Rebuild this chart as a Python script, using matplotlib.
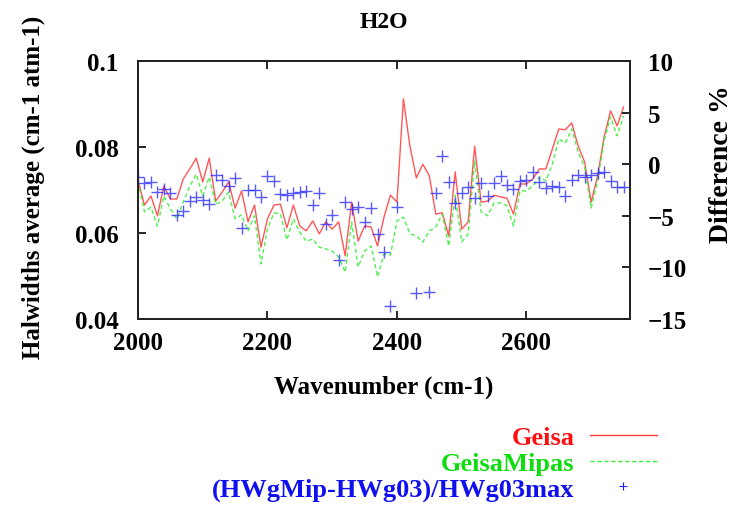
import numpy as np
import matplotlib
matplotlib.use("Agg")
import matplotlib.pyplot as plt
from matplotlib.lines import Line2D

# Wavenumber grid (cm-1)
wavenumber = np.arange(2000, 2760, 10)

# Average half-widths (cm-1 atm-1)
geisa = [0.0723, 0.0665, 0.0686, 0.0640, 0.0709, 0.0679, 0.0679, 0.0726, 0.0749, 0.0774,
         0.0719, 0.0774, 0.0674, 0.0695, 0.0719, 0.0658, 0.0698, 0.0626, 0.0665, 0.0567,
         0.0633, 0.0665, 0.0667, 0.0612, 0.0665, 0.0616, 0.0605, 0.0628, 0.0598, 0.0626,
         0.0609, 0.0626, 0.0547, 0.0672, 0.0581, 0.0616, 0.0614, 0.0570, 0.0637, 0.0688,
         0.0672, 0.0912, 0.0802, 0.0728, 0.0760, 0.0733, 0.0644, 0.0647, 0.0593, 0.0742,
         0.0609, 0.0626, 0.0802, 0.0672, 0.0674, 0.0688, 0.0684, 0.0681, 0.0644, 0.0714,
         0.0714, 0.0726, 0.0749, 0.0749, 0.0795, 0.0842, 0.0840, 0.0856, 0.0802, 0.0765,
         0.0672, 0.0733, 0.0823, 0.0884, 0.0849, 0.0893]

geisa_mipas = [0.0719, 0.0649, 0.0660, 0.0616, 0.0686, 0.0656, 0.0633, 0.0672, 0.0709, 0.0737,
               0.0686, 0.0730, 0.0667, 0.0674, 0.0695, 0.0633, 0.0642, 0.0605, 0.0640, 0.0528,
               0.0609, 0.0647, 0.0644, 0.0584, 0.0633, 0.0602, 0.0581, 0.0586, 0.0567, 0.0563,
               0.0558, 0.0544, 0.0509, 0.0626, 0.0521, 0.0558, 0.0570, 0.0498, 0.0551, 0.0549,
               0.0628, 0.0637, 0.0598, 0.0593, 0.0579, 0.0605, 0.0614, 0.0644, 0.0570, 0.0688,
               0.0579, 0.0598, 0.0767, 0.0649, 0.0640, 0.0670, 0.0670, 0.0663, 0.0616, 0.0698,
               0.0698, 0.0709, 0.0730, 0.0721, 0.0760, 0.0819, 0.0809, 0.0842, 0.0788, 0.0753,
               0.0658, 0.0721, 0.0816, 0.0870, 0.0826, 0.0872]

# Relative difference (%)
difference = [-1.2, -1.8, -1.7, -2.7, -2.4, -2.8, -4.9, -4.5, -3.6, -3.2,
              -3.5, -3.9, -1.0, -1.5, -2.1, -1.3, -6.2, -2.5, -2.5, -3.2,
              -1.1, -1.6, -2.9, -3.0, -2.8, -2.7, -2.6, -4.0, -2.8, -5.8,
              -4.9, -9.3, -3.7, -4.3, -4.1, -5.6, -4.2, -6.8, -8.5, -13.7,
              -4.1, np.nan, np.nan, -12.5, np.nan, -12.4, -2.8, 0.8, -1.7, -3.8,
              -2.8, -2.2, -3.3, -1.8, -3.1, -1.8, -1.1, -2.0, -2.4, -1.6,
              -1.5, -0.8, -1.7, -2.3, -2.1, -2.2, -3.1, -1.5, -1.0, -1.2,
              -1.0, -0.9, -0.8, -1.6, -2.2, -2.2]

x_ticks = [2000, 2200, 2400, 2600]
left_ticks = [0.04, 0.06, 0.08, 0.1]
left_tick_labels = ["0.04", "0.06", "0.08", "0.1"]
right_ticks = [-15, -10, -5, 0, 5, 10]

FONT = "Liberation Serif"
FS = 18
plt.rcParams["font.family"] = [FONT, "DejaVu Serif"]
plt.rcParams["font.weight"] = "bold"

fig = plt.figure(figsize=(7.38, 5.10), dpi=100)
ax = fig.add_axes([138 / 738, 1 - 320 / 510, 492 / 738, 258 / 510])
ax2 = ax.twinx()

red = "#ff3a3a"
green = "#30ee30"
blue = "#2020ff"

ax.plot(wavenumber, geisa, color=red, lw=1.0, alpha=0.85)
ax.plot(wavenumber, geisa_mipas, color=green, lw=1.0, ls=(0, (3, 2)), alpha=0.85)
ax2.plot(wavenumber, difference, ls="none", marker="+", ms=8, mew=1.0,
         color=blue, alpha=0.75)

ax.set_xlim(2000, 2760)
ax.set_ylim(0.04, 0.1)
ax2.set_ylim(-15, 10)

ax.set_xticks(x_ticks)
ax.set_yticks(left_ticks)
ax.set_yticklabels(left_tick_labels)
ax2.set_yticks(right_ticks)

for a in (ax, ax2):
    for s in a.spines.values():
        s.set_linewidth(1.4)
        s.set_color("#222222")

ax.tick_params(axis="x", direction="in", top=True, length=6, width=1.2,
               pad=9, labelsize=FS)
ax.tick_params(axis="y", direction="in", length=6, width=1.2, pad=14, labelsize=FS)
ax2.tick_params(axis="y", direction="in", length=6, width=1.2, pad=13, labelsize=FS)
for lab in ax.get_xticklabels() + ax.get_yticklabels() + ax2.get_yticklabels():
    lab.set_fontweight("bold")

ax.set_xlabel("Wavenumber (cm-1)", fontsize=FS, fontweight="bold")
ax.xaxis.set_label_coords(0.5, -0.215)
ax.set_ylabel("Halwidths average (cm-1 atm-1)", fontsize=FS, fontweight="bold")
ax.yaxis.set_label_coords(-0.19, 0.515)
ax2.set_ylabel("Difference %", fontsize=20, fontweight="bold", rotation=90)
ax2.yaxis.set_label_coords(1.16, 0.605)

fig.text(384 / 738, 1 - 23 / 510, "H2O", ha="center", va="center",
         fontsize=17, fontweight="bold")

handles = [Line2D([], [], color=red, lw=1.0),
           Line2D([], [], color=green, lw=1.0, ls=(0, (3, 2))),
           Line2D([], [], ls="none", marker="+", ms=6, mew=0.8, color=blue)]
labels = ["Geisa", "GeisaMipas", "(HWgMip-HWg03)/HWg03max"]
fig.legend(handles, labels, loc="upper right",
           bbox_to_anchor=(657 / 738, 1 - 427 / 510),
           frameon=False, markerfirst=False, handlelength=2.55,
           handletextpad=0.57, labelspacing=0.08, borderpad=0,
           borderaxespad=0,
           prop={"family": FONT, "weight": "bold", "size": 19},
           labelcolor=["#ff1010", "#10dd10", "#1010ee"])

fig.savefig("out.png", dpi=100)
